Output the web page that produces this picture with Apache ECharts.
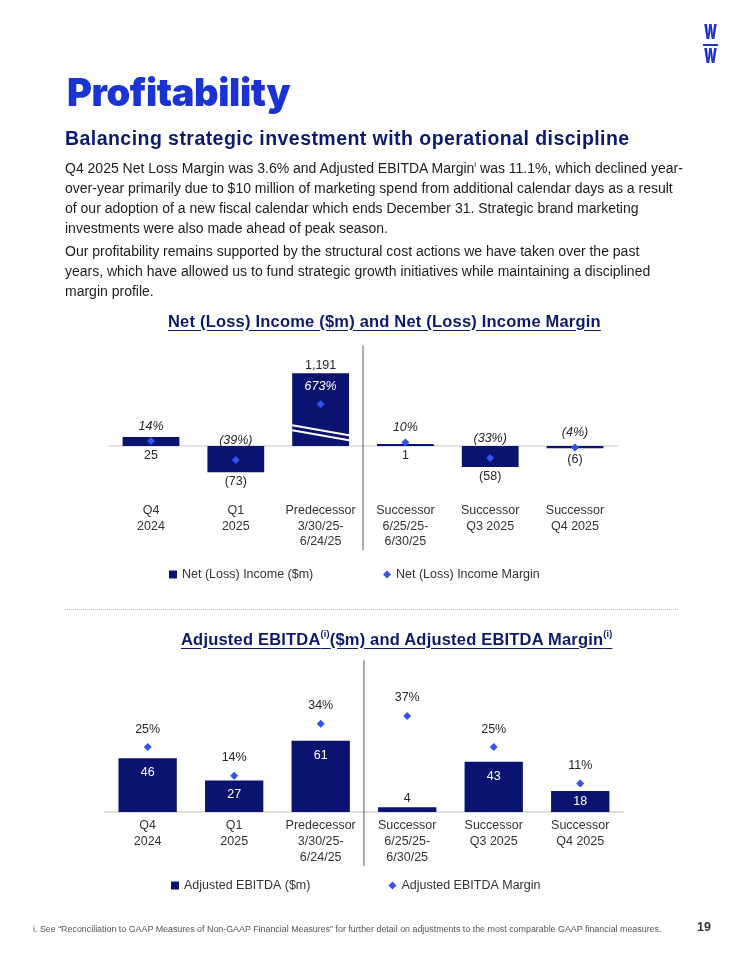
<!DOCTYPE html>
<html><head><meta charset="utf-8">
<script src="https://cdn.jsdelivr.net/npm/echarts@6/dist/echarts.min.js"></script>
<style>
html,body{margin:0;padding:0;background:#fff;}
#page{position:relative;width:742px;height:960px;overflow:hidden;font-family:"Liberation Sans",Arial,sans-serif;color:#1c1c1c;}
#chart{position:absolute;left:0;top:0;width:742px;height:960px;}
.t{position:absolute;white-space:nowrap;}
.body{font-size:14px;line-height:20px;color:#1c1c1c;}
.ct{font-size:16.5px;line-height:20px;letter-spacing:0.2px;font-weight:bold;color:#0c1a6b;text-decoration:underline;text-underline-offset:3px;}
.ct sup{font-size:9px;vertical-align:top;position:relative;top:-5px;text-decoration:none;}
.logo{font-family:Inter;font-weight:900;font-size:20px;line-height:21px;color:#1a34d4;width:20px;text-align:center;transform:scaleX(0.6);}
</style></head><body>
<div id="page">
<div id="chart"></div>
<div class="t logo" style="left:700px;top:21.5px;">W</div>
<div class="t" style="left:703px;top:44px;width:15px;height:2.4px;background:#1a34d4;"></div>
<div class="t logo" style="left:700px;top:46px;">W</div>
<div class="t" style="left:67px;top:73px;font-family:Inter;font-weight:900;font-size:38px;line-height:38px;letter-spacing:-0.4px;color:#1a34d4;">Profitability</div>
<div class="t" style="left:65px;top:129px;font-weight:bold;font-size:19.5px;line-height:19.5px;letter-spacing:0.45px;color:#0c1a6b;">Balancing strategic investment with operational discipline</div>
<div class="t body" style="left:65px;top:158px;">Q4 2025 Net Loss Margin was 3.6% and Adjusted EBITDA Margin<sup style="font-size:8px;line-height:0">i</sup> was 11.1%, which declined year-<br>over-year primarily due to $10 million of marketing spend from additional calendar days as a result<br>of our adoption of a new fiscal calendar which ends December 31. Strategic brand marketing<br>investments were also made ahead of peak season.</div>
<div class="t body" style="left:65px;top:241px;">Our profitability remains supported by the structural cost actions we have taken over the past<br>years, which have allowed us to fund strategic growth initiatives while maintaining a disciplined<br>margin profile.</div>
<div class="t ct" style="left:168px;top:310.5px;">Net (Loss) Income ($m) and Net (Loss) Income Margin</div>
<div class="t" style="left:65px;top:609px;width:613px;border-top:1px dotted #b8b8b8;"></div>
<div class="t ct" style="left:181px;top:628.5px;">Adjusted EBITDA<sup>(i)</sup>($m) and Adjusted EBITDA Margin<sup>(i)</sup></div>
<div class="t" style="left:33px;top:923px;font-size:8.9px;line-height:12px;color:#555;">i. See “Reconciliation to GAAP Measures of Non-GAAP Financial Measures” for further detail on adjustments to the most comparable GAAP financial measures.</div>
<div class="t" style="left:697px;top:920px;font-size:12.5px;line-height:14px;font-weight:bold;color:#333;">19</div>
</div>
<script>
const categories = ['Q4\n2024', 'Q1\n2025', 'Predecessor\n3/30/25-\n6/24/25', 'Successor\n6/25/25-\n6/30/25', 'Successor\nQ3 2025', 'Successor\nQ4 2025'];
const netIncome = [25, -73, 1191, 1, -58, -6];
const netMargin = [14, -39, 673, 10, -33, -4];
const ebitda = [46, 27, 61, 4, 43, 18];
const ebitdaMargin = [25, 14, 34, 37, 25, 11];
const splitAfterIndex = 2;

const NAVY = '#0b1370';
const BLUE = '#3352f2';
const FONT = '"Liberation Sans", Arial, sans-serif';
const NET_MAX = 202;

const fmtNum = v => v < 0 ? '(' + Math.abs(v).toLocaleString('en-US') + ')' : v.toLocaleString('en-US');
const fmtPct = v => v < 0 ? '(' + Math.abs(v) + '%)' : v + '%';

const chart = echarts.init(document.getElementById('chart'), null, {renderer: 'canvas'});

const dividerSeries = (xi, yi, up, down) => ({
  type: 'custom', xAxisIndex: xi, yAxisIndex: yi, silent: true, z: 1,
  encode: {x: 0}, data: [[splitAfterIndex]],
  renderItem(params, api) {
    const x = api.coord([api.value(0), 0])[0] + api.size([1, 0])[0] / 2;
    const cs = params.coordSys;
    return {type: 'line', shape: {x1: x, y1: cs.y - up, x2: x, y2: cs.y + cs.height + down},
      style: {stroke: '#5a5a5a', lineWidth: 1}};
  }
});

const labelBase = {fontFamily: FONT, fontSize: 12.5, color: '#262626'};
const legendText = {fontSize: 12.5, color: '#333', fontFamily: FONT};

const option = {
  animation: false,
  textStyle: {fontFamily: FONT},
  grid: [
    {left: 108.6, top: 373.3, width: 508.8, height: 116},
    {left: 104.4, top: 695.2, width: 519.1, height: 116.8}
  ],
  xAxis: [
    {gridIndex: 0, type: 'category', data: categories, position: 'bottom',
      axisLine: {show: false, onZero: false}, axisTick: {show: false},
      axisLabel: {interval: 0, margin: 14, fontSize: 12.5, lineHeight: 15.3, color: '#333', fontFamily: FONT}},
    {gridIndex: 0, type: 'category', data: categories,
      axisLine: {show: true, onZero: true, lineStyle: {color: '#d9d9d9', width: 1.5}},
      axisTick: {show: false}, axisLabel: {show: false}},
    {gridIndex: 1, type: 'category', data: categories, position: 'bottom',
      axisLine: {show: true, lineStyle: {color: '#d4d4d4', width: 1.5}}, axisTick: {show: false},
      axisLabel: {interval: 0, margin: 6, fontSize: 12.5, lineHeight: 15.8, color: '#333', fontFamily: FONT}}
  ],
  yAxis: [
    {gridIndex: 0, type: 'value', min: -120, max: NET_MAX, show: false, splitLine: {show: false}},
    {gridIndex: 0, type: 'value', min: -120, max: 759, show: false, splitLine: {show: false},
      breaks: [{start: 93, end: 650, gap: 0}], breakArea: {show: false}},
    {gridIndex: 1, type: 'value', min: 0, max: 100, show: false, splitLine: {show: false}},
    {gridIndex: 1, type: 'value', min: 0, max: 45, show: false, splitLine: {show: false}}
  ],
  legend: [
    {data: [{name: 'Net (Loss) Income ($m)', icon: 'rect'}], left: 169, top: 568, padding: 0,
      itemWidth: 8, itemHeight: 8, selectedMode: false, textStyle: legendText},
    {data: [{name: 'Net (Loss) Income Margin', icon: 'diamond'}], left: 383, top: 568, padding: 0,
      itemWidth: 8, itemHeight: 8, selectedMode: false, textStyle: legendText},
    {data: [{name: 'Adjusted EBITDA ($m)', icon: 'rect'}], left: 171, top: 879, padding: 0,
      itemWidth: 8, itemHeight: 8, selectedMode: false, textStyle: legendText},
    {data: [{name: 'Adjusted EBITDA Margin', icon: 'diamond'}], left: 388.5, top: 879, padding: 0,
      itemWidth: 8, itemHeight: 8, selectedMode: false, textStyle: legendText}
  ],
  series: [
    {name: 'Net (Loss) Income ($m)', type: 'bar', xAxisIndex: 0, yAxisIndex: 0, barWidth: '67%', barMinHeight: 2, clip: true,
      itemStyle: {color: NAVY},
      label: Object.assign({show: true, formatter: p => fmtNum(p.value)}, labelBase),
      data: netIncome.map(v => ({value: v, label: {position: v > 100 ? 'top' : 'bottom', distance: v > 100 ? 1 : (v < -3 && v > -10 ? 5 : 3)}}))},
    {name: 'Net (Loss) Income Margin', type: 'scatter', xAxisIndex: 0, yAxisIndex: 1, symbol: 'diamond', symbolSize: 8, clip: false, z: 4,
      itemStyle: {color: BLUE, opacity: 1},
      label: Object.assign({show: true, position: 'top', fontStyle: 'italic', formatter: p => fmtPct(p.value)}, labelBase),
      data: netMargin.map(m => ({value: m, label: {distance: m > 100 ? 7 : (m < -20 ? 9 : 4), color: m > 100 ? '#fff' : '#262626'}}))},
    {type: 'custom', xAxisIndex: 0, yAxisIndex: 0, silent: true, z: 3, encode: {x: 0, y: 1},
      data: netIncome.map((v, i) => [i, v]),
      renderItem(params, api) {
        const i = api.value(0), v = api.value(1);
        if (v <= NET_MAX) return null;
        const c = api.coord([i, 0]);
        const w = api.size([1, 0])[0] * 0.67;
        const x1 = c[0] - w / 2, x2 = c[0] + w / 2;
        const ln = (a, b) => ({type: 'line', shape: {x1: x1, y1: api.coord([i, a])[1], x2: x2, y2: api.coord([i, b])[1]},
          style: {stroke: '#fff', lineWidth: 2}});
        return {type: 'group', children: [ln(58, 30), ln(44, 16)]};
      }},
    dividerSeries(0, 0, 28, 61),
    {name: 'Adjusted EBITDA ($m)', type: 'bar', xAxisIndex: 2, yAxisIndex: 2, barWidth: '67.4%',
      itemStyle: {color: NAVY},
      label: Object.assign({show: true, formatter: p => fmtNum(p.value)}, labelBase),
      data: ebitda.map(v => ({value: v, label: v < 10 ? {position: 'top', distance: 2, color: '#262626'}
        : (v < 25 ? {position: 'inside', color: '#fff'} : {position: 'insideTop', distance: 8, color: '#fff'})}))},
    {name: 'Adjusted EBITDA Margin', type: 'scatter', xAxisIndex: 2, yAxisIndex: 3, symbol: 'diamond', symbolSize: 8, clip: false, z: 4,
      itemStyle: {color: BLUE, opacity: 1},
      label: Object.assign({show: true, position: 'top', distance: 7.5, formatter: p => fmtPct(p.value)}, labelBase),
      data: ebitdaMargin},
    dividerSeries(2, 2, 35, 54)
  ]
};
chart.setOption(option);
</script>
</body></html>
